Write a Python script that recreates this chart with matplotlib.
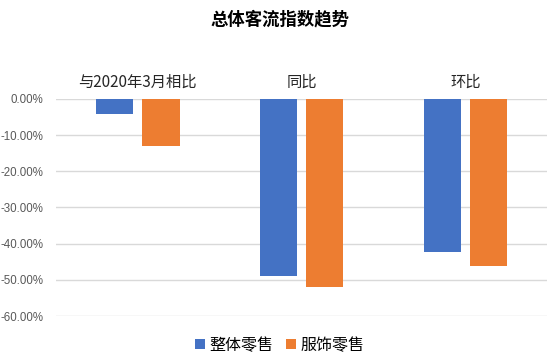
import numpy as np
import matplotlib
matplotlib.use('Agg')
import matplotlib.pyplot as plt
from matplotlib.ticker import FuncFormatter

plt.rcParams['font.family'] = ['Noto Sans CJK SC', 'DejaVu Sans']

categories = ['与2020年3月相比', '同比', '环比']
series_names = ['整体零售', '服饰零售']
overall = [-0.041, -0.489, -0.423]
apparel = [-0.130, -0.519, -0.461]
colors = ['#4472C4', '#ED7D31']


def pct(v, p):
    v = round(v * 100, 2)
    if v == 0:
        v = 0.0
    return '%.2f%%' % v


fig = plt.figure(figsize=(5.6, 3.58), dpi=100)
ax = fig.add_axes([0.1, 0.117, 0.877, 0.607])

x = np.arange(len(categories))
w = 0.227
off = (w + 0.055) / 2
b1 = ax.bar(x - off, overall, w, color=colors[0], label=series_names[0], zorder=3)
b2 = ax.bar(x + off, apparel, w, color=colors[1], label=series_names[1], zorder=3)

ax.set_xlim(-0.5, len(categories) - 0.5)
ax.set_ylim(-0.6, 0)
ax.set_yticks(np.arange(-0.6, 0.01, 0.1))
ax.yaxis.set_major_formatter(FuncFormatter(pct))
ax.tick_params(axis='y', length=0, labelsize=8.3, labelcolor='#595959', pad=9)
for t in ax.get_yticklabels():
    t.set_fontfamily(['Liberation Sans', 'DejaVu Sans'])
ax.xaxis.tick_top()
ax.set_xticks(x)
ax.set_xticklabels(categories, fontsize=11, color='#262626')
ax.tick_params(axis='x', length=0, pad=6)
ax.grid(axis='y', color='#D9D9D9', linewidth=1, zorder=0)
for s in ax.spines.values():
    s.set_visible(False)

fig.text(0.5, 0.945, '总体客流指数趋势', ha='center', va='center',
         fontsize=12.5, fontweight='bold', color='black')

fig.legend(handles=[b1, b2], loc='center', bbox_to_anchor=(0.5, 0.035), ncol=2,
           frameon=False, fontsize=11.5, handlelength=0.6, handleheight=0.6,
           handletextpad=0.3, columnspacing=0.8)

fig.savefig('out.png', dpi=100)
